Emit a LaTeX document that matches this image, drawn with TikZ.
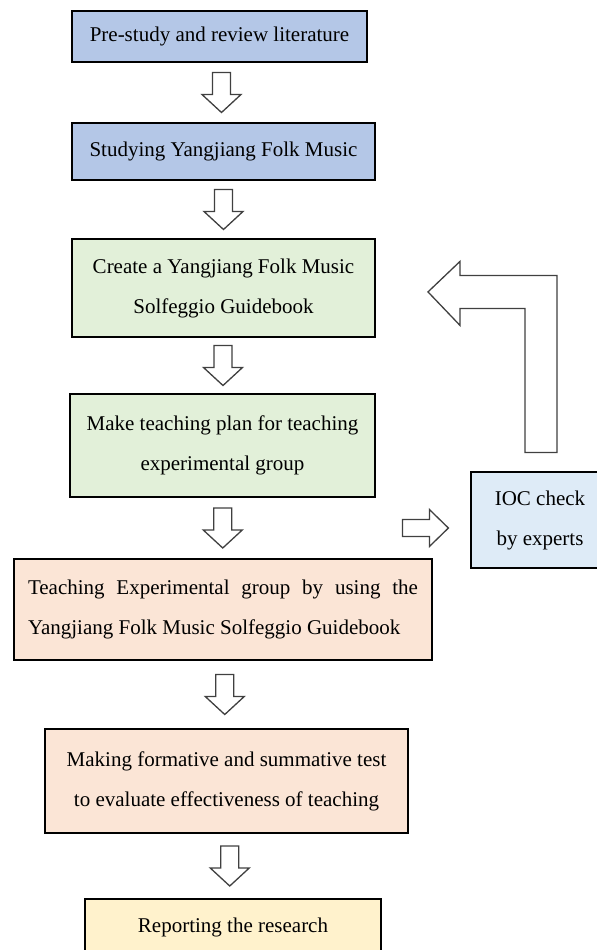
\documentclass[tikz,border=0pt]{standalone}
\usepackage{fontspec}
\setmainfont{Liberation Serif}
\usetikzlibrary{calc}
\definecolor{stepblue}{HTML}{B4C7E7}
\definecolor{stepgreen}{HTML}{E2F0D9}
\definecolor{steppeach}{HTML}{FBE5D6}
\definecolor{stepyellow}{HTML}{FFF2CC}
\definecolor{iocblue}{HTML}{DEEBF7}
\newcommand{\hollowdown}[2]{%
    \draw[hollow] ($(#1.south)!0.5!(#2.north)$) ++(-9,-20) -- ++(18,0) -- ++(0,22) -- ++(10.5,0)
        -- ++(-19.5,18) -- ++(-19.5,-18) -- ++(10.5,0) -- cycle;}

\begin{document}
\begin{tikzpicture}[x=0.5pt, y=-0.5pt,
    box/.style={draw, line width=0.6pt, align=center, inner sep=0pt, font=\fontsize{10.5}{20}\selectfont},
    hollow/.style={draw=black!75, fill=white, line width=0.65pt}]
    \useasboundingbox (0,0) rectangle (597,950);
    \node[box, fill=stepblue, minimum width=147.5pt, minimum height=25.5pt] (lit) at (219.5,36.5) {Pre-study and review literature};
    \node[box, fill=stepblue, minimum width=151.5pt, minimum height=28.5pt] (study) at (223.5,151.5) {Studying Yangjiang Folk Music};
    \node[box, fill=stepgreen, minimum width=151.5pt, minimum height=49pt] (guide) at (223.5,288) {Create a Yangjiang Folk Music\\Solfeggio Guidebook};
    \node[box, fill=stepgreen, minimum width=152.5pt, minimum height=51.5pt] (plan) at (222.5,445.5) {Make teaching plan for teaching\\experimental group};
    \node[box, fill=steppeach, minimum width=209pt, minimum height=50.5pt, text width=195pt, align=justify] (teach) at (223,609.5) {Teaching Experimental group by using the\linebreak Yangjiang Folk Music Solfeggio Guidebook};
    \node[box, fill=steppeach, minimum width=181.5pt, minimum height=52pt] (test) at (226.5,781) {Making formative and summative test\\to evaluate effectiveness of teaching};
    \node[box, fill=stepyellow, minimum width=148pt, minimum height=28pt] (report) at (233,927) {Reporting the research};
    \node[box, fill=iocblue, minimum width=69pt, minimum height=48pt] (ioc) at (540,520) {IOC check\\by experts};
    \hollowdown{lit}{study}
    \hollowdown{study}{guide}
    \hollowdown{guide}{plan}
    \hollowdown{plan}{teach}
    \hollowdown{teach}{test}
    \hollowdown{test}{report}
    % towards the experts
    \draw[hollow] ($(ioc.west)+(-22,8)$) -- ++(-19,-18.5) -- ++(0,10) -- ++(-27,0) -- ++(0,17) -- ++(27,0) -- ++(0,10) -- cycle;
    % back to the guidebook
    \draw[hollow] ($(ioc.north)+(-15,-19)$) -- ++(0,-144) -- ++(-65,0) -- ++(0,17) -- ++(-32,-33.5)
        -- ++(32,-30.5) -- ++(0,14) -- ++(97,0) -- ++(0,177) -- cycle;
\end{tikzpicture}
\end{document}
